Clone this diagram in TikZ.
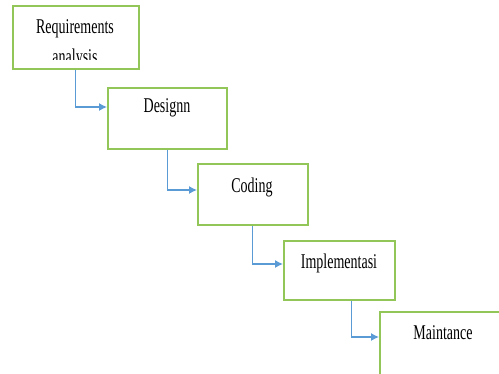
\documentclass[tikz,border=0pt]{standalone}
\usepackage{fontspec}
\setmainfont{Liberation Serif}
\usetikzlibrary{arrows.meta}
\definecolor{boxgreen}{RGB}{146,198,88}
\definecolor{linkblue}{RGB}{91,155,213}
\newcommand{\tallword}[1]{\scalebox{1}[1.5]{#1}}
\begin{document}
\begin{tikzpicture}[x=1pt,y=-1pt,
    stage/.style={draw=boxgreen, line width=1.6pt, inner sep=0pt, anchor=north west},
    caption/.style={font=\fontsize{14}{15}\selectfont, inner sep=0pt},
    link/.style={draw=linkblue, line width=1.2pt, -{Latex[length=8pt,width=8pt]}}]
  \clip (0,0) rectangle (499,373);
  % the stages
  \node [stage, minimum width=126pt, minimum height=63pt] (req) at (12,5) {};
  \node [stage, minimum width=119pt, minimum height=61pt] (design) at (107,87) {};
  \node [stage, minimum width=110pt, minimum height=61pt] (coding) at (197,163) {};
  \node [stage, minimum width=111pt, minimum height=59pt] (impl) at (283,240) {};
  \node [stage, minimum width=130pt, minimum height=70pt] (maint) at (379,311) {};
  \node [caption] (req-text) at (75,29) {\tallword{Requirements}};
  \begin{scope}
    \clip (12,44) rectangle (138,59);
    \node [caption] (req-text2) at (75,58) {\tallword{analysis}};
  \end{scope}
  \node [caption] (design-text) at (167,108) {\tallword{Designn}};
  \node [caption] (coding-text) at (252,187) {\tallword{Coding}};
  \node [caption] (impl-text) at (339,263) {\tallword{Implementasi}};
  \node [caption] (maint-text) at (443,333) {\tallword{Maintance}};
  % the links
  \draw [link] (req.south) |- ([yshift=-20pt]design.north west);
  \draw [link] (design.south) |- ([yshift=-27pt]coding.north west);
  \draw [link] (coding.south) |- ([yshift=-24pt]impl.north west);
  \draw [link] ([xshift=12pt]impl.south) |- ([yshift=-26pt]maint.north west);
\end{tikzpicture}
\end{document}
